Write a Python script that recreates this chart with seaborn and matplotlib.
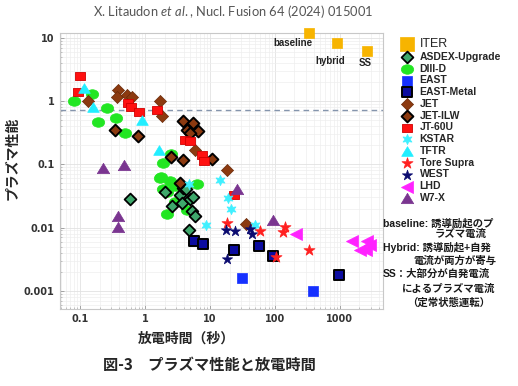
import numpy as np
import pandas as pd
import matplotlib
matplotlib.use("Agg")
import matplotlib.pyplot as plt
import seaborn as sns
from matplotlib.markers import MarkerStyle
from matplotlib.path import Path
from matplotlib.ticker import FixedLocator, FixedFormatter, NullFormatter

# Dati: tempo di scarica [s] e prestazione del plasma
iter_time = [337, 908, 2630]
iter_perf = [12.1, 8.2, 6.3]
iter_names = ["baseline", "hybrid", "SS"]

asdex_time = [0.59, 2.03, 2.57, 3.45, 3.8, 3.67, 4.27, 4.92, 5.23, 5.88, 4.81, 5.5]
asdex_perf = [0.028, 0.036, 0.022, 0.033, 0.042, 0.0245, 0.040, 0.028, 0.018, 0.015, 0.009, 0.030]

diiid_time = [0.079, 0.151, 0.191, 0.257, 0.36, 0.49, 2.5, 1.91, 1.76, 1.70, 2.42, 2.9,
              1.91, 2.16, 2.2, 4.38, 6.24, 2.9]
diiid_perf = [0.99, 1.29, 0.46, 0.78, 0.54, 0.31, 0.145, 0.105, 0.064, 0.061, 0.054, 0.045,
              0.040, 0.037, 0.0165, 0.019, 0.048, 0.025]

east_time = [30.7, 388]
east_perf = [0.0016, 0.00098]

eastm_time = [5.67, 7.72, 23.6, 57.3, 94.2, 975]
eastm_perf = [0.0061, 0.0056, 0.0045, 0.0052, 0.0036, 0.0018]

jet_time = [0.134, 0.388, 0.367, 0.52, 0.62, 1.70, 1.81, 5.88, 18.5, 35.8]
jet_perf = [1.02, 1.51, 1.14, 1.26, 1.18, 0.99, 0.586, 0.17, 0.080, 0.0114]

jetilw_time = [0.345, 0.79, 3.88, 5.23, 6.61, 4.38, 5.53, 4.92, 10.6, 2.49, 3.80, 3.45]
jetilw_perf = [0.352, 0.283, 0.477, 0.374, 0.331, 0.352, 0.449, 0.312, 0.12, 0.13, 0.118, 0.05]

jt60u_time = [0.098, 0.094, 0.54, 0.61, 0.81, 1.51, 4.12, 4.92, 7.45, 8.09, 23.4]
jt60u_perf = [2.45, 1.39, 0.93, 0.82, 0.66, 0.71, 0.245, 0.23, 0.142, 0.111, 0.033]

kstar_time = [14.2, 4.81, 8.68, 18.7, 20.8, 49.2]
kstar_perf = [0.057, 0.049, 0.0111, 0.0294, 0.0197, 0.0111]

tftr_time = [0.116, 0.157, 0.91, 1.64]
tftr_perf = [1.60, 0.82, 0.507, 0.17]

tore_time = [18.5, 58.8, 104, 142, 131, 337]
tore_perf = [0.0118, 0.0089, 0.0034, 0.0102, 0.0084, 0.0044]

west_time = [17.6, 24.3, 41.2, 43.8, 18.5]
west_perf = [0.009, 0.0089, 0.0095, 0.008, 0.0032]

lhd_time = [210, 1567, 2630, 2900, 2031, 2512]
lhd_perf = [0.008, 0.0062, 0.0061, 0.0053, 0.0045, 0.0044]

w7x_time = [0.224, 0.48, 0.388, 0.388, 26.3, 92.2]
w7x_perf = [0.0875, 0.099, 0.015, 0.0101, 0.041, 0.013]

ref_level = 0.73

x_ticks = [0.1, 1, 10, 100, 1000]
x_tick_labels = ["0.1", "1", "10", "100", "1000"]
y_ticks = [0.001, 0.01, 0.1, 1, 10]
y_tick_labels = ["0.001", "0.01", "0.1", "1", "10"]

note_lines = [
    "baseline: 誘導励起のプ",
    "ラズマ電流",
    "Hybrid: 誘導励起+自発",
    "電流が両方が寄与",
    "SS：大部分が自発電流",
    "によるプラズマ電流",
    "（定常状態運転）",
]

sns.set_theme(style="white")
plt.rcParams["font.family"] = ["Liberation Sans", "Noto Sans CJK JP", "DejaVu Sans"]
plt.rcParams["mathtext.fontset"] = "custom"
plt.rcParams["mathtext.rm"] = "Lato"
plt.rcParams["mathtext.it"] = "Lato:italic"


# marker "stirati" in orizzontale come nell'immagine originale
def stretched(code, sx):
    m = MarkerStyle(code)
    p = m.get_path().transformed(m.get_transform())
    return Path(p.vertices * np.array([sx, 1.0]), p.codes)


star6 = (6, 1, 0)

# nome, dati, stile
series = [
    ("DIII-D", diiid_time, diiid_perf,
     dict(marker=stretched("o", 1.3), s=80, color="#22e622", edgecolor="#22e622", linewidth=0.5)),
    ("ITER", iter_time, iter_perf,
     dict(marker="s", s=62, color="#f7b400", edgecolor="#f7b400", linewidth=0.5)),
    ("ASDEX-Upgrade", asdex_time, asdex_perf,
     dict(marker="D", s=36, color="#3fa86c", edgecolor="black", linewidth=1.3)),
    ("EAST", east_time, east_perf,
     dict(marker="s", s=44, color="#1530ff", edgecolor="#1530ff", linewidth=0.5)),
    ("EAST-Metal", eastm_time, eastm_perf,
     dict(marker="s", s=46, color="#0c0ca0", edgecolor="black", linewidth=1.4)),
    ("JET", jet_time, jet_perf,
     dict(marker="D", s=38, color="#8c3a10", edgecolor="#6a2a08", linewidth=0.5)),
    ("JET-ILW", jetilw_time, jetilw_perf,
     dict(marker="D", s=36, color="#8c3a10", edgecolor="black", linewidth=1.4)),
    ("JT-60U", jt60u_time, jt60u_perf,
     dict(marker=stretched("s", 1.2), s=55, color="#ff1010", edgecolor="#d00000", linewidth=0.6)),
    ("KSTAR", kstar_time, kstar_perf,
     dict(marker=star6, s=55, color="#3ff0ff", edgecolor="#3ff0ff", linewidth=0.5)),
    ("TFTR", tftr_time, tftr_perf,
     dict(marker=stretched("^", 1.2), s=70, color="#22eeff", edgecolor="#22eeff", linewidth=0.5)),
    ("Tore Supra", tore_time, tore_perf,
     dict(marker="*", s=70, color="#ff2020", edgecolor="#ff2020", linewidth=0.5)),
    ("WEST", west_time, west_perf,
     dict(marker="*", s=60, color="#0b0b70", edgecolor="#0b0b70", linewidth=0.5)),
    ("LHD", lhd_time, lhd_perf,
     dict(marker="<", s=75, color="#ff22ff", edgecolor="#ff22ff", linewidth=0.5)),
    ("W7-X", w7x_time, w7x_perf,
     dict(marker=stretched("^", 1.2), s=80, color="#7a3590", edgecolor="#7a3590", linewidth=0.5)),
]
legend_order = ["ITER", "ASDEX-Upgrade", "DIII-D", "EAST", "EAST-Metal", "JET", "JET-ILW",
                "JT-60U", "KSTAR", "TFTR", "Tore Supra", "WEST", "LHD", "W7-X"]

fig = plt.figure(figsize=(5.18, 3.86), dpi=100)
ax = fig.add_axes([0.116, 0.200, 0.623, 0.715])

handles = {}
for name, t, p, st in series:
    df = pd.DataFrame({"time": t, "perf": p})
    sns.scatterplot(data=df, x="time", y="perf", ax=ax, label=name, legend=False,
                    clip_on=(name != "ITER"), zorder=3, **st)
    handles[name] = ax.collections[-1]

# linea di riferimento tratteggiata
ax.axhline(ref_level, color="#8595ad", linestyle=(0, (4, 3)), linewidth=1.0, zorder=2)

# etichette scenari ITER
offsets = [(-11.5, -7.6), (-5, -12.5), (-1.2, -9)]
for t, p, lab, off in zip(iter_time, iter_perf, iter_names, offsets):
    ax.annotate(lab, (t, p), xytext=off, textcoords="offset points", ha="center", va="center",
                fontsize=7, fontweight="bold", color="#222222", annotation_clip=False)

ax.set_xscale("log")
ax.set_yscale("log")
ax.set_xlim(0.049, 4600)
ax.set_ylim(0.00052, 12)
ax.xaxis.set_major_locator(FixedLocator(x_ticks))
ax.xaxis.set_major_formatter(FixedFormatter(x_tick_labels))
ax.yaxis.set_major_locator(FixedLocator(y_ticks))
ax.yaxis.set_major_formatter(FixedFormatter(y_tick_labels))
ax.xaxis.set_minor_formatter(NullFormatter())
ax.yaxis.set_minor_formatter(NullFormatter())
ax.tick_params(which="major", direction="in", length=3, width=0.6, color="#999999",
               labelsize=7, labelcolor="#333333", bottom=True, left=True, pad=4)
ax.tick_params(which="minor", direction="in", length=1.5, width=0.5, color="#aaaaaa",
               bottom=True, left=True)
for lab in ax.get_xticklabels() + ax.get_yticklabels():
    lab.set_fontweight("bold")
    lab.set_family(["DejaVu Sans"])
ax.grid(True, which="major", color="#e2e2e2", linewidth=0.6)
ax.grid(True, which="minor", color="#eeeeee", linewidth=0.5)
for sp in ax.spines.values():
    sp.set_color("#c8c8c8")
    sp.set_linewidth(0.8)
ax.set_xlabel("")
ax.set_ylabel("")

# legenda
leg = fig.legend([handles[n] for n in legend_order], legend_order, loc="upper left",
                 bbox_to_anchor=(401 / 518, 1 - 38 / 386), frameon=False, borderpad=0,
                 borderaxespad=0, labelspacing=0.17, handlelength=1.2, handletextpad=0.6,
                 scatterpoints=1, prop={"size": 7.5, "weight": "bold"})
leg.legend_handles[0].set_sizes([110])
leg.get_texts()[0].set_fontsize(9)
leg.get_texts()[0].set_fontweight("normal")

# testo esplicativo
note_pos = [(383, 223), (435, 234), (383, 248), (413, 261), (383, 274), (402, 289), (407, 303)]
for txt, (px, py) in zip(note_lines, note_pos):
    fig.text(px / 518, 1 - py / 386, txt, ha="left", va="center", fontsize=7.5,
             fontweight="bold", color="#1a1a1a")

# titoli e assi
fig.text(233 / 518, 1 - 12 / 386, r"X. Litaudon $\mathit{et\ al.}$, Nucl. Fusion 64 (2024) 015001",
         ha="center", va="center", fontsize=9.3, color="#555555", family=["Lato", "DejaVu Sans"])
fig.text(12 / 518, 1 - 158 / 386, "プラズマ性能", rotation=90, ha="center", va="center",
         fontsize=10, fontweight="bold", family=["Noto Sans CJK JP", "DejaVu Sans"])
fig.text(186 / 518, 1 - 339 / 386, "放電時間（秒）", ha="center", va="center",
         fontsize=10, fontweight="bold", family=["Noto Sans CJK JP", "DejaVu Sans"])
fig.text(209 / 518, 1 - 365 / 386, "図-3　プラズマ性能と放電時間", ha="center", va="center",
         fontsize=11, fontweight="bold", family=["Noto Sans CJK JP", "DejaVu Sans"])

fig.savefig("out.png", dpi=100)
